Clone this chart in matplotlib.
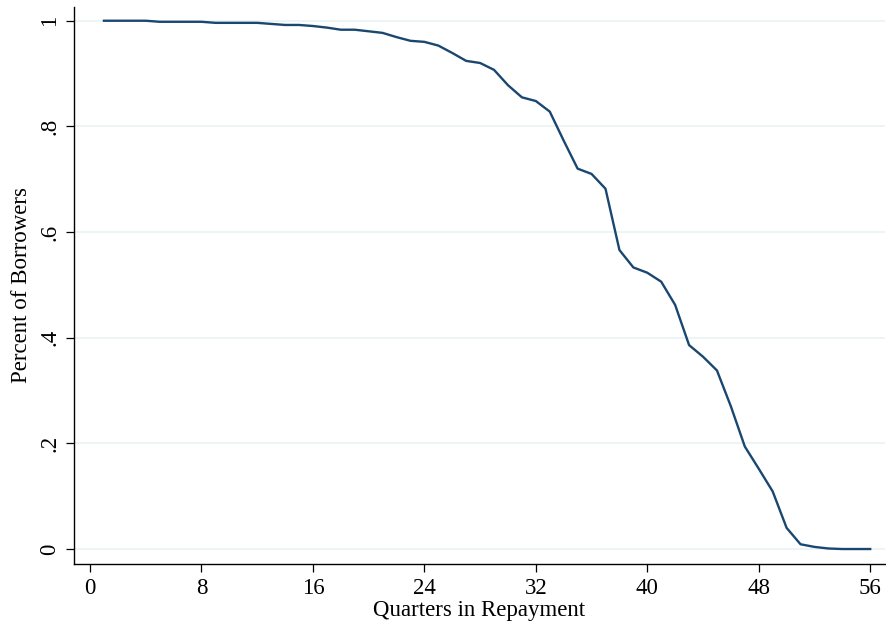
import numpy as np
import matplotlib.pyplot as plt

# share of borrowers still in repayment, by quarter
quarters = list(range(1, 57))
share = [1.000, 1.000, 1.000, 1.000, 0.998, 0.998, 0.998, 0.998, 0.996, 0.996,
         0.996, 0.996, 0.994, 0.992, 0.992, 0.990, 0.987, 0.983, 0.983, 0.980,
         0.977, 0.969, 0.962, 0.960, 0.953, 0.939, 0.924, 0.920, 0.907, 0.878,
         0.855, 0.848, 0.828, 0.773, 0.720, 0.710, 0.682, 0.566, 0.533, 0.523,
         0.506, 0.462, 0.386, 0.364, 0.338, 0.270, 0.194, 0.152, 0.109, 0.040,
         0.009, 0.004, 0.001, 0.000, 0.000, 0.000]

xticks = [0, 8, 16, 24, 32, 40, 48, 56]
yticks = [0, 0.2, 0.4, 0.6, 0.8, 1.0]
ylabels = ["0", ".2", ".4", ".6", ".8", "1"]

plt.rcParams['font.family'] = ['Liberation Serif', 'DejaVu Serif']

fig = plt.figure(figsize=(8.86, 6.29), dpi=100)
ax = fig.add_axes([0.0835, 0.1033, 0.9155, 0.886])

ax.plot(quarters, share, color='#1a476f', linewidth=1.7, solid_joinstyle='round')

ax.set_xlim(-1.15, 57.07)
ax.set_ylim(-0.0284, 1.0265)
ax.set_xticks(xticks)
ax.set_yticks(yticks)
ax.set_yticklabels(ylabels, rotation=90, va='center')

ax.grid(axis='y', color='#eaf2f3', linewidth=1.2)
ax.set_axisbelow(True)
ax.spines['top'].set_visible(False)
ax.spines['right'].set_visible(False)
ax.spines['left'].set_linewidth(1.0)
ax.spines['bottom'].set_linewidth(1.0)
ax.tick_params(axis='both', direction='out', length=6, width=0.9,
               labelsize=16.5, pad=4)

ax.set_xlabel("Quarters in Repayment", fontsize=16.5, labelpad=1)
ax.set_ylabel("Percent of Borrowers", fontsize=16.5, labelpad=5)

fig.savefig("out.png", dpi=100)
